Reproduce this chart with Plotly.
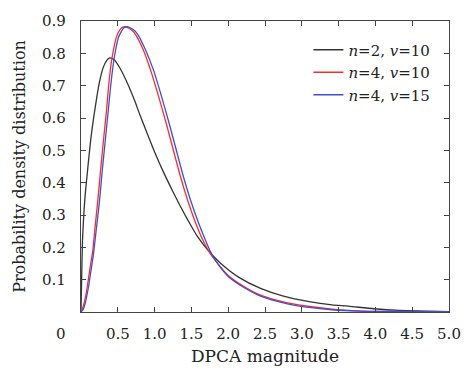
import plotly.graph_objects as go

# n=2, v=10 (black)
x_n2v10 = [0.0, 0.01, 0.02, 0.04, 0.06, 0.09, 0.136, 0.2, 0.25, 0.3, 0.35, 0.39, 0.45, 0.53, 0.64, 0.73,
           0.8, 0.9, 1.0, 1.13, 1.25, 1.35, 1.45, 1.57, 1.74, 1.9, 2.14, 2.44, 2.75, 3.1, 3.41, 3.63,
           3.98, 4.33, 4.7, 5.0]
y_n2v10 = [0.0, 0.12, 0.22, 0.31, 0.37, 0.44, 0.54, 0.643, 0.71, 0.755, 0.778, 0.786, 0.78, 0.754, 0.703, 0.653,
           0.61, 0.552, 0.495, 0.428, 0.372, 0.327, 0.285, 0.238, 0.187, 0.150, 0.108, 0.073, 0.049, 0.032, 0.022, 0.018,
           0.01, 0.005, 0.003, 0.001]

# n=4, v=10 (red)
x_n4v10 = [0.0, 0.03, 0.06, 0.09, 0.125, 0.16, 0.19, 0.224, 0.267, 0.31, 0.346, 0.377, 0.42, 0.487, 0.55, 0.61,
           0.7, 0.75, 0.84, 0.95, 1.05, 1.15, 1.25, 1.35, 1.45, 1.55, 1.65, 1.75, 1.83, 2.0, 2.22, 2.44,
           2.79, 3.1, 3.41, 3.8, 4.0, 5.0]
y_n4v10 = [0.0, 0.017, 0.045, 0.085, 0.14, 0.19, 0.26, 0.335, 0.441, 0.542, 0.622, 0.703, 0.784, 0.854, 0.878, 0.882,
           0.87, 0.855, 0.814, 0.745, 0.67, 0.59, 0.505, 0.42, 0.345, 0.28, 0.225, 0.183, 0.158, 0.113, 0.078, 0.052,
           0.029, 0.017, 0.009, 0.003, 0.002, 0.0]

# n=4, v=15 (blue)
x_n4v15 = [0.0, 0.03, 0.06, 0.1, 0.13, 0.17, 0.2, 0.25, 0.29, 0.335, 0.37, 0.405, 0.45, 0.51, 0.58, 0.64,
           0.73, 0.78, 0.87, 0.99, 1.09, 1.19, 1.29, 1.39, 1.49, 1.59, 1.68, 1.76, 1.83, 2.0, 2.22, 2.44,
           2.79, 3.1, 3.41, 3.8, 4.2, 5.0]
y_n4v15 = [0.0, 0.008, 0.03, 0.075, 0.12, 0.18, 0.24, 0.34, 0.44, 0.542, 0.622, 0.703, 0.784, 0.85, 0.878, 0.882,
           0.87, 0.855, 0.814, 0.745, 0.67, 0.59, 0.505, 0.42, 0.345, 0.28, 0.228, 0.186, 0.158, 0.11, 0.075, 0.049,
           0.026, 0.014, 0.007, 0.003, 0.002, 0.001]

series_names = ["<i>n</i>=2, <i>v</i>=10", "<i>n</i>=4, <i>v</i>=10", "<i>n</i>=4, <i>v</i>=15"]
series_colors = ["#333333", "#ff2a2a", "#3f4fd0"]

x_tickvals = [0.5, 1.0, 1.5, 2.0, 2.5, 3.0, 3.5, 4.0, 4.5, 5.0]
x_ticktext = ["0.5", "1.0", "1.5", "2.0", "2.5", "3.0", "3.5", "4.0", "4.5", "5.0"]
y_tickvals = [0.1, 0.2, 0.3, 0.4, 0.5, 0.6, 0.7, 0.8, 0.9]
y_ticktext = ["0.1", "0.2", "0.3", "0.4", "0.5", "0.6", "0.7", "0.8", "0.9"]

FONT = "DejaVu Serif"

fig = go.Figure()
for xs, ys, name, col in zip([x_n2v10, x_n4v10, x_n4v15], [y_n2v10, y_n4v10, y_n4v15],
                             series_names, series_colors):
    fig.add_trace(go.Scatter(x=xs, y=ys, mode="lines", name=name,
                             line=dict(color=col, width=1.3, shape="spline", smoothing=0.6)))

axis_common = dict(showline=True, linecolor="#444444", linewidth=1.2, mirror="ticks",
                   ticks="inside", ticklen=5, tickcolor="#444444", tickwidth=1,
                   showgrid=False, zeroline=False,
                   tickfont=dict(family=FONT, size=15, color="#222222"))

fig.update_layout(
    width=473, height=376,
    margin=dict(l=81, r=12, t=15, b=64),
    paper_bgcolor="white", plot_bgcolor="white",
    font=dict(family=FONT, size=15, color="#222222"),
    xaxis=dict(range=[0, 5], tickvals=x_tickvals, ticktext=x_ticktext,
               title=dict(text="DPCA magnitude", font=dict(family=FONT, size=17), standoff=8),
               ticklabelstandoff=8, **axis_common),
    yaxis=dict(range=[0, 0.9], tickvals=y_tickvals, ticktext=y_ticktext,
               title=dict(text="Probability density distribution", font=dict(family=FONT, size=16), standoff=12),
               ticklabelstandoff=11, **axis_common),
    legend=dict(x=0.618, y=0.957, xanchor="left", yanchor="top", bgcolor="rgba(0,0,0,0)",
                font=dict(family=FONT, size=15), tracegroupgap=0),
    showlegend=True,
)

fig.add_annotation(text="0", x=-0.055, y=-0.075, xref="paper", yref="paper",
                   showarrow=False, font=dict(family=FONT, size=15, color="#222222"),
                   xanchor="center", yanchor="middle")

fig.write_html("out.html", post_script="document.body.style.margin='0';",
               config={"displayModeBar": False})
